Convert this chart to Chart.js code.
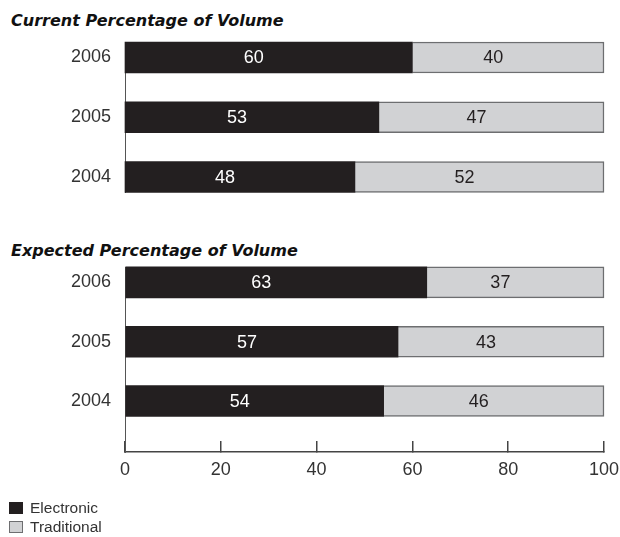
<!DOCTYPE html>
<html>
<head>
<meta charset="utf-8">
<script src="https://cdn.jsdelivr.net/npm/chart.js@4.4.0/dist/chart.umd.min.js"></script>
<style>
  body { margin: 0; width: 620px; height: 537px; background: #fff; position: relative; overflow: hidden;
         font-family: 'Liberation Sans', Arial, sans-serif; color: #231f20; }
  .title { position: absolute; left: 11px; font-family: 'DejaVu Sans', sans-serif; font-size: 16px; line-height: 18px;
           font-weight: bold; font-style: italic; white-space: nowrap; color: #111; }
  .panel { position: absolute; left: 0; }
  .legendRow { position: absolute; left: 30px; font-size: 15.5px; line-height: 18px; color: #333; }
  .swatch { position: absolute; left: -21px; top: 3px; width: 14px; height: 12px; box-sizing: border-box; }
</style>
</head>
<body>
<div class="title" style="top:12px">Current Percentage of Volume</div>
<div class="panel" style="top:0px"><canvas id="currentChart" width="620" height="210"></canvas></div>
<div class="title" style="top:242px">Expected Percentage of Volume</div>
<div class="panel" style="top:230px"><canvas id="expectedChart" width="620" height="270"></canvas></div>
<div id="legend"></div>
<script>
const years = ['2006', '2005', '2004'];
const seriesNames = ['Electronic', 'Traditional'];
const currentElectronic = [60, 53, 48];
const currentTraditional = [40, 47, 52];
const expectedElectronic = [63, 57, 54];
const expectedTraditional = [37, 43, 46];
const xTicks = [0, 20, 40, 60, 80, 100];

const darkColor = '#231f20';
const lightColor = '#d1d2d4';
const fontFamily = "'Liberation Sans', Arial, sans-serif";

Chart.defaults.font.family = fontFamily;
Chart.defaults.color = '#333';

// bars are placed on a linear y scale: index 0 = 2006 at the top
function toPoints(values) {
    return values.map((v, i) => ({ x: v, y: i }));
}

// numbers written inside each piece of the bars
const barLabels = {
    id: 'barLabels',
    afterDatasetsDraw(chart) {
        const ctx = chart.ctx;
        ctx.save();
        ctx.font = '18px ' + fontFamily;
        ctx.textAlign = 'center';
        ctx.textBaseline = 'middle';
        chart.data.datasets.forEach((ds, di) => {
            const meta = chart.getDatasetMeta(di);
            ctx.fillStyle = ds.labelColor;
            meta.data.forEach((bar, i) => {
                const mid = (bar.x + bar.base) / 2 - 15;
                ctx.fillText(ds.data[i].x, mid, bar.y + 1);
            });
        });
        ctx.restore();
    }
};

function makeDatasets(electronic, traditional) {
    return [
        { label: seriesNames[0], data: toPoints(electronic), backgroundColor: darkColor,
          borderColor: darkColor, borderWidth: 0, clip: false, labelColor: '#fff' },
        { label: seriesNames[1], data: toPoints(traditional), backgroundColor: lightColor,
          borderColor: '#6d6e70', borderWidth: 1.5, clip: false, labelColor: darkColor }
    ];
}

function yScale(max) {
    return {
        type: 'linear',
        min: -0.26,
        max: max,
        reverse: true,
        offset: false,
        stacked: true,
        afterFit: s => { s.width = 125; s.paddingTop = 0; s.paddingBottom = 0; },
        afterBuildTicks: s => { s.ticks = years.map((y, i) => ({ value: i })); },
        ticks: { callback: v => years[v], padding: 6, font: { size: 18 }, color: '#333' },
        grid: { display: false },
        border: { display: true, color: '#555', width: 1 }
    };
}

let currentChart = new Chart(document.getElementById('currentChart'), {
    type: 'bar',
    data: { datasets: makeDatasets(currentElectronic, currentTraditional) },
    options: {
        indexAxis: 'y',
        responsive: false,
        animation: false,
        layout: { padding: { top: 42, bottom: 17.5, left: 0, right: 16 } },
        datasets: { bar: { barThickness: 31 } },
        plugins: { legend: { display: false }, tooltip: { enabled: false } },
        scales: {
            x: { display: false, min: 0, max: 100, stacked: true },
            y: yScale(2.26)
        }
    },
    plugins: [barLabels]
});

let expectedChart = new Chart(document.getElementById('expectedChart'), {
    type: 'bar',
    data: { datasets: makeDatasets(expectedElectronic, expectedTraditional) },
    options: {
        indexAxis: 'y',
        responsive: false,
        animation: false,
        layout: { padding: { top: 37, bottom: 8, left: 0, right: 16 } },
        datasets: { bar: { barThickness: 31 } },
        plugins: { legend: { display: false }, tooltip: { enabled: false } },
        scales: {
            x: {
                min: 0,
                max: 100,
                stacked: true,
                // fixed height, and don't let the end labels squeeze the plot
                afterFit: s => { s.height = 40; s.paddingLeft = 0; s.paddingRight = 0; },
                afterBuildTicks: s => { s.ticks = xTicks.map(v => ({ value: v })); },
                ticks: { padding: 18, font: { size: 18 }, color: '#333', maxRotation: 0 },
                grid: { drawOnChartArea: false, tickLength: -11, color: '#444', lineWidth: 1.5 },
                border: { display: true, color: '#444', width: 1.5 }
            },
            y: yScale(2.86)
        }
    },
    plugins: [barLabels]
});

// legend below the charts, one row for each series
const legend = document.getElementById('legend');
const rowTops = [499, 518];
expectedChart.data.datasets.forEach((ds, i) => {
    const row = document.createElement('div');
    row.className = 'legendRow';
    row.style.top = rowTops[i] + 'px';
    row.textContent = ds.label;
    const sw = document.createElement('span');
    sw.className = 'swatch';
    sw.style.background = ds.backgroundColor;
    sw.style.border = '1px solid ' + (i === 0 ? darkColor : '#6d6e70');
    row.appendChild(sw);
    legend.appendChild(row);
});
</script>
</body>
</html>
